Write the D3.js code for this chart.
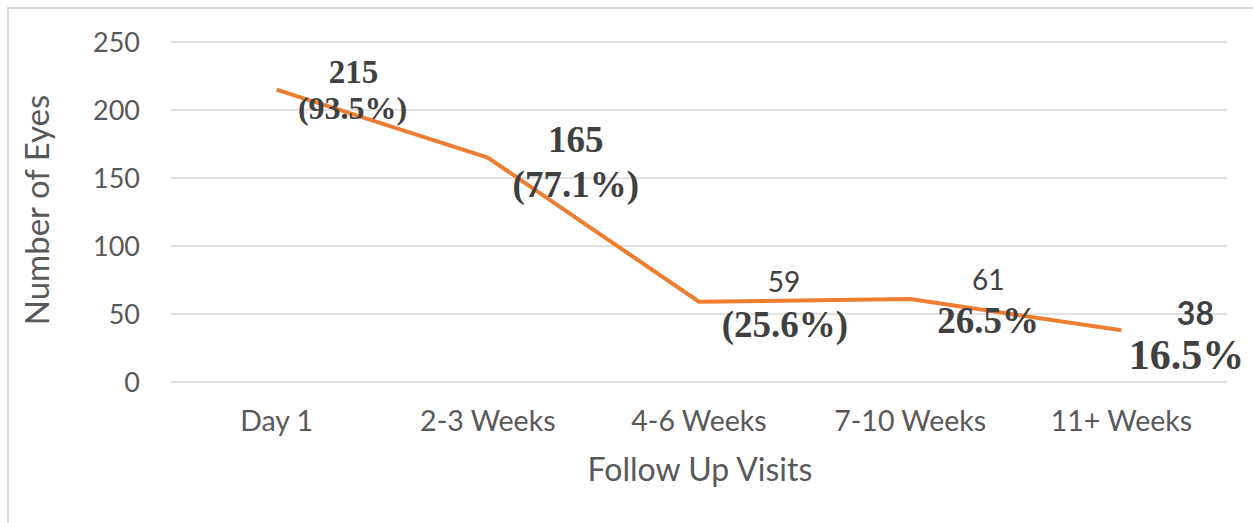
<!DOCTYPE html>
<html><head><meta charset="utf-8">
<script src="https://cdn.jsdelivr.net/npm/d3@7/dist/d3.min.js"></script>
<style>body{margin:0;background:#fff}svg{display:block}</style>
</head><body>
<script>
const categories = ["Day 1", "2-3 Weeks", "4-6 Weeks", "7-10 Weeks", "11+ Weeks"];
const values = [215, 165, 59, 61, 38];
const countLabels = ["215", "165", "59", "61", "38"];
const pctLabels = ["(93.5%)", "(77.1%)", "(25.6%)", "26.5%", "16.5%"];
const yTicks = [0, 50, 100, 150, 200, 250];

const W = 1253, H = 523;
const svg = d3.select("body").append("svg").attr("width", W).attr("height", H);

// chart frame (left + top edges visible)
svg.append("path").attr("d", `M8,523 V8 H1253`).attr("fill", "none")
  .attr("stroke", "#d9d9d9").attr("stroke-width", 2);

const x = d3.scaleBand().domain(categories).range([171, 1227]);
const y = d3.scaleLinear().domain([0, 250]).range([382, 42]);

const sans = "Lato, 'Open Sans', sans-serif";
const serif = "'Liberation Serif', 'Times New Roman', serif";

// gridlines
svg.append("g").selectAll("line").data(yTicks).join("line")
  .attr("x1", 171).attr("x2", 1227)
  .attr("y1", d => y(d)).attr("y2", d => y(d))
  .attr("stroke", "#d9d9d9").attr("stroke-width", 1.5);

// y axis
const yAxis = svg.append("g").attr("transform", "translate(171,0)")
  .call(d3.axisLeft(y).tickValues(yTicks).tickSize(0).tickPadding(31));
yAxis.select(".domain").remove();
yAxis.selectAll("text").attr("font-family", sans).attr("font-size", 27)
  .attr("fill", "#595959").attr("dy", "0.35em");

// x axis
const xAxis = svg.append("g").attr("transform", "translate(0,382)")
  .call(d3.axisBottom(x).tickSize(0).tickPadding(29));
xAxis.select(".domain").remove();
xAxis.selectAll("text").attr("font-family", sans).attr("font-size", 28.5)
  .attr("fill", "#595959");

// axis titles
svg.append("text").attr("x", 700).attr("y", 481).attr("text-anchor", "middle")
  .attr("font-family", sans).attr("font-size", 32).attr("fill", "#595959")
  .text("Follow Up Visits");
svg.append("text").attr("transform", "translate(49,210) rotate(-90)")
  .attr("text-anchor", "middle").attr("font-family", sans).attr("font-size", 33)
  .attr("fill", "#595959").text("Number of Eyes");

// line
const line = d3.line().x((d, i) => x(categories[i]) + x.bandwidth() / 2).y(d => y(d));
svg.append("path").datum(values).attr("d", line).attr("fill", "none")
  .attr("stroke", "#ED7D31").attr("stroke-width", 4).attr("stroke-linejoin", "round");

// data labels
const cx = i => x(categories[i]) + x.bandwidth() / 2;
const lab = (px, py, txt, fam, size, weight) =>
  svg.append("text").attr("x", px).attr("y", py).attr("text-anchor", "middle")
    .attr("dominant-baseline", "central")
    .attr("font-family", fam).attr("font-size", size).attr("font-weight", weight)
    .attr("fill", "#404040").text(txt);

lab(cx(0) + 77, y(values[0]) - 18, countLabels[0], serif, 33, "bold");
lab(cx(0) + 76, y(values[0]) + 18, pctLabels[0], serif, 32, "bold");
lab(cx(1) + 88, y(values[1]) - 18, countLabels[1], serif, 37, "bold");
lab(cx(1) + 88, y(values[1]) + 27, pctLabels[1], serif, 37, "bold");
lab(cx(2) + 85, y(values[2]) - 21, countLabels[2], sans, 28, "normal");
lab(cx(2) + 86, y(values[2]) + 23, pctLabels[2], serif, 37, "bold");
lab(cx(3) + 78, y(values[3]) - 20, countLabels[3], sans, 28, "normal");
lab(cx(3) + 78, y(values[3]) + 21, pctLabels[3], serif, 37, "bold");
lab(cx(4) + 74, y(values[4]) - 18, countLabels[4], sans, 32, "bold");
lab(cx(4) + 65, y(values[4]) + 25, pctLabels[4], serif, 42, "bold");
</script>
</body></html>
